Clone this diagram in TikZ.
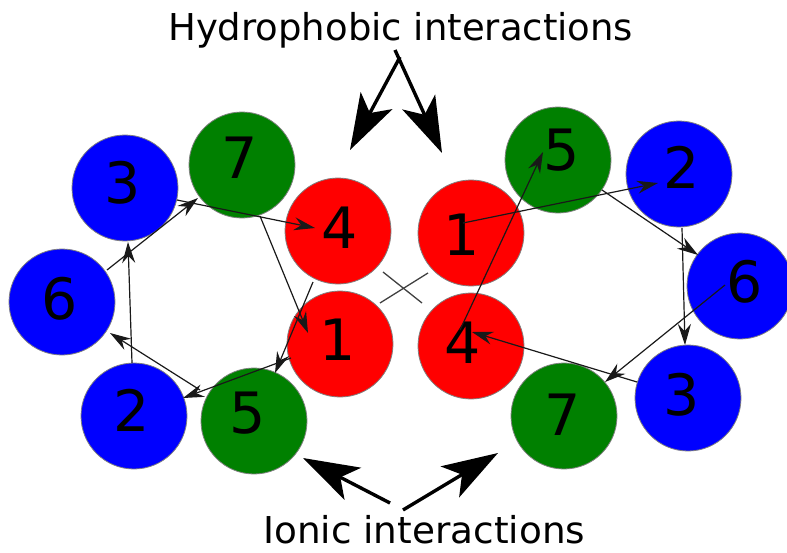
\documentclass[tikz,border=0pt]{standalone}
\usepackage{fontspec}
\setmainfont{DejaVu Sans}
\usetikzlibrary{arrows.meta,calc}
\definecolor{ballblue}{RGB}{0,0,255}
\definecolor{ballgreen}{RGB}{0,128,0}
\definecolor{ballred}{RGB}{255,0,0}
\begin{document}
\begin{tikzpicture}[x=1pt,y=-1pt,
  ball/.style={circle,draw=black!50,line width=0.8pt,fill=#1,minimum size=106pt,inner sep=0pt},
  digit/.style={inner sep=0pt,font=\fontsize{57}{57}\selectfont},
  link/.style={line width=1.2pt,black!90,-{Stealth[length=21pt,width=13pt,inset=7pt]}},
  bigarrow/.style={line width=3.4pt,-{Stealth[length=56pt,width=36pt,inset=14pt]}},
  caption/.style={inner sep=0pt,anchor=base west,font=\fontsize{37}{37}\selectfont},
  crossline/.style={line width=1.3pt,black!75}]
\useasboundingbox (0,0) rectangle (787,552);

% left heptad
\node[ball=ballblue]  (L3) at (125,188) {};
\node[ball=ballgreen] (L7) at (242,165) {};
\node[ball=ballred]   (L4) at (338,231) {};
\node[ball=ballred]   (L1) at (340,344) {};
\node[ball=ballgreen] (L5) at (254,421) {};
\node[ball=ballblue]  (L2) at (134,416) {};
\node[ball=ballblue]  (L6) at (62,302) {};
% right heptad
\node[ball=ballgreen] (R5) at (558,160) {};
\node[ball=ballblue]  (R2) at (679,174) {};
\node[ball=ballred]   (R1) at (471,233) {};
\node[ball=ballblue]  (R6) at (740,286) {};
\node[ball=ballred]   (R4) at (471,346) {};
\node[ball=ballblue]  (R3) at (688,398) {};
\node[ball=ballgreen] (R7) at (564,416) {};

% digits
\node[digit] (dL3) at (123,183) {3};
\node[digit] (dL7) at (240,158) {7};
\node[digit] (dL4) at (340,228) {4};
\node[digit] (dL1) at (338,340) {1};
\node[digit] (dL5) at (248,413) {5};
\node[digit] (dL2) at (132,410) {2};
\node[digit] (dL6) at (60,299) {6};
\node[digit] (dR5) at (562,150) {5};
\node[digit] (dR2) at (682,167) {2};
\node[digit] (dR1) at (462,235) {1};
\node[digit] (dR4) at (463,343) {4};
\node[digit] (dR6) at (745,282) {6};
\node[digit] (dR3) at (682,395) {3};
\node[digit] (dR7) at (563,415) {7};

% left connectors
\draw[link] ($(L4)+(-25,51)$) -- ($(L5)+(21,-48)$);
\draw[link] ($(L7)+(18,51)$) -- ($(L1)+(-32,-11)$);
\draw[link] ($(L3)+(52,12)$) -- ($(L4)+(-23,-3)$);
\draw[link] ($(L6)+(45,-32)$) -- ($(L7)+(-44,33)$);
\draw[link] ($(L2)+(-2,-53)$) -- ($(L3)+(3,54)$);
\draw[link] ($(L5)+(-54,-31)$) -- ($(L6)+(48,31)$);
\draw[link] ($(L1)+(-49,14)$) -- ($(L2)+(49,-18)$);
% right connectors
\draw[link] ($(R1)+(-8,-10)$) -- ($(R2)+(-21,9)$);
\draw[link] ($(R4)+(-11,-16)$) -- ($(R5)+(-15,-8)$);
\draw[link] ($(R5)+(44,30)$) -- ($(R6)+(-42,-31)$);
\draw[link] ($(R2)+(3,54)$) -- ($(R3)+(-3,-53)$);
\draw[link] ($(R6)+(-15,-1)$) -- ($(R7)+(41,-34)$);
\draw[link] ($(R3)+(-51,-16)$) -- ($(R4)+(1,-14)$);

% central cross
\coordinate (xa) at (383,272);
\coordinate (xb) at (422,303);
\coordinate (xc) at (428,273);
\coordinate (xd) at (380,303);
\draw[crossline] (xa) -- (xb);
\draw[crossline] (xc) -- (xd);

% captions
\node[caption] (hyd) at (168,40) {\resizebox{465pt}{\height}{Hydrophobic interactions}};
\node[caption] (ion) at (263,543) {\resizebox{322pt}{\height}{Ionic interactions}};

% big arrows
\coordinate (hA1) at (400,57);
\coordinate (hA2) at (395,50);
\coordinate (hL) at (350,150);
\coordinate (hR) at (442,153);
\draw[bigarrow] (hA1) -- (hL);
\draw[bigarrow] (hA2) -- (hR);
\coordinate (iA1) at (390,503);
\coordinate (iA2) at (403,510);
\coordinate (iL) at (303,458);
\coordinate (iR) at (498,453);
\draw[bigarrow] (iA1) -- (iL);
\draw[bigarrow] (iA2) -- (iR);
\end{tikzpicture}
\end{document}
